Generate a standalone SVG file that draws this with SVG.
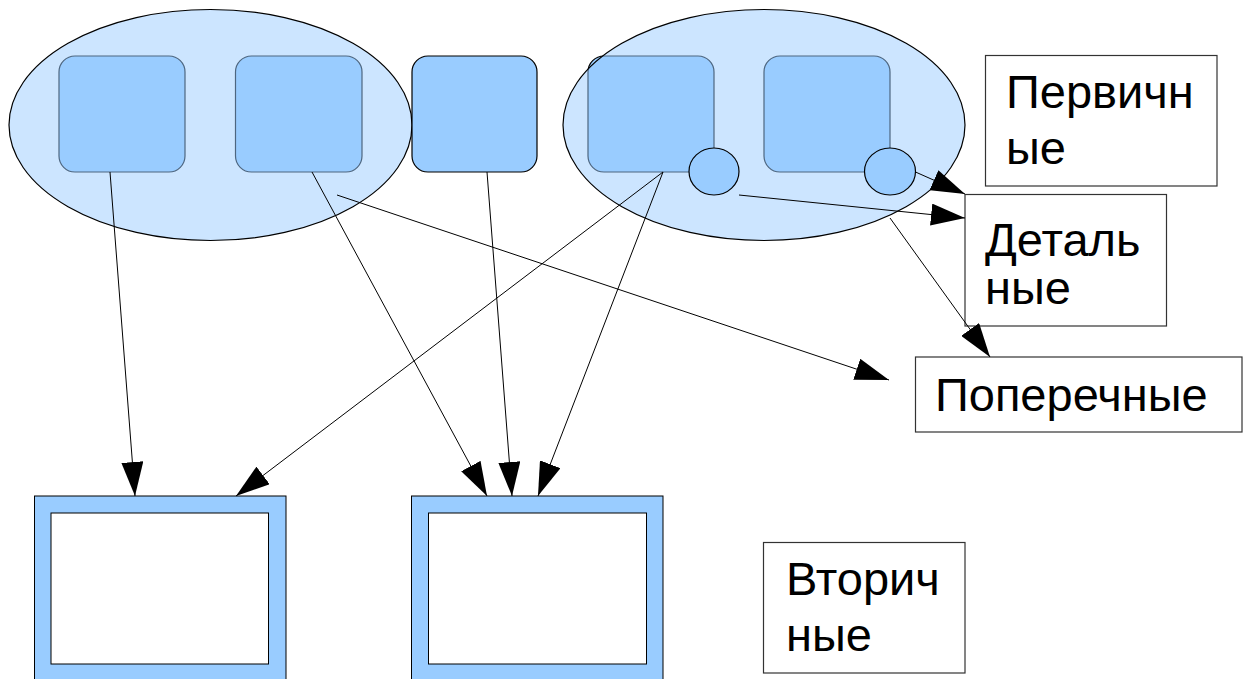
<svg xmlns="http://www.w3.org/2000/svg" width="1243" height="679" viewBox="0 0 1243 679">
<defs>
<style>
.sq{fill:#99ccff;stroke:#000;stroke-width:1.2}
.grp{fill:#99ccff;fill-opacity:0.5;stroke:#000;stroke-width:1.2}
.dot{fill:#99ccff;stroke:#000;stroke-width:1.2}
.lbl{fill:#fff;stroke:#333;stroke-width:1.2}
.txt{font-family:"Liberation Sans",Arial,sans-serif;font-size:47px;fill:#000}
.frame{fill:#99ccff;stroke:#000;stroke-width:1}
.inner{fill:#fff;stroke:#000;stroke-width:1}
.conn line{stroke:#000;stroke-width:1;marker-end:url(#arr)}
</style>
<marker id="arr" viewBox="0 0 34 22" refX="34" refY="11" markerWidth="34" markerHeight="22" markerUnits="userSpaceOnUse" orient="auto">
<path d="M0,0 L34,11 L0,22 z" fill="#000"/>
</marker>
</defs>
<rect width="1243" height="679" fill="#fff"/>
<g id="group-left">
<rect class="sq" x="59" y="56" width="126" height="116" rx="16"/>
<rect class="sq" x="235.5" y="56" width="126.5" height="116" rx="16"/>
<ellipse class="grp" cx="210.5" cy="125" rx="201.5" ry="115.5"/>
</g>
<g id="group-right">
<rect class="sq" x="588" y="56" width="126" height="116" rx="16"/>
<rect class="sq" x="764" y="56" width="126" height="116" rx="16"/>
<ellipse class="grp" cx="764" cy="125" rx="201" ry="115.5"/>
</g>
<g id="square-middle">
<rect class="sq" x="412" y="56" width="125" height="116" rx="16"/>
</g>
<g id="dot-1"><ellipse class="dot" cx="714" cy="171.5" rx="25" ry="23.5"/></g>
<g id="dot-2"><ellipse class="dot" cx="890" cy="171.5" rx="25.5" ry="23.5"/></g>
<g id="label-primary">
<rect class="lbl" x="985.5" y="55.5" width="231.5" height="130.5"/>
<text class="txt" x="1006" y="108">Первичн</text>
<text class="txt" x="1006" y="164">ые</text>
</g>
<g id="label-detail">
<rect class="lbl" x="965" y="194.5" width="201.5" height="131.5"/>
<text class="txt" x="985" y="256">Деталь</text>
<text class="txt" x="985" y="304">ные</text>
</g>
<g id="label-cross">
<rect class="lbl" x="915.5" y="357" width="326.5" height="75"/>
<text class="txt" x="935" y="411">Поперечные</text>
</g>
<g id="label-secondary">
<rect class="lbl" x="763.5" y="542.5" width="201.5" height="130.5"/>
<text class="txt" x="786" y="595">Вторич</text>
<text class="txt" x="786" y="651">ные</text>
</g>
<g id="frame-left">
<rect class="frame" x="34.5" y="496" width="251.5" height="200"/>
<rect class="inner" x="51" y="513" width="217.5" height="151"/>
</g>
<g id="frame-right">
<rect class="frame" x="411.5" y="496" width="251.5" height="200"/>
<rect class="inner" x="428.5" y="513" width="218" height="151"/>
</g>
<g id="connectors" class="conn">
<line x1="110" y1="172" x2="135" y2="496"/>
<line x1="663" y1="172" x2="236" y2="496"/>
<line x1="312" y1="172" x2="487" y2="496"/>
<line x1="487" y1="172" x2="512" y2="496"/>
<line x1="663" y1="172" x2="538" y2="496"/>
<line x1="337" y1="195" x2="889" y2="380"/>
<line x1="739" y1="195" x2="965" y2="218"/>
<line x1="915.5" y1="172" x2="965" y2="194"/>
<line x1="890" y1="218" x2="990" y2="357"/>
</g>
</svg>
